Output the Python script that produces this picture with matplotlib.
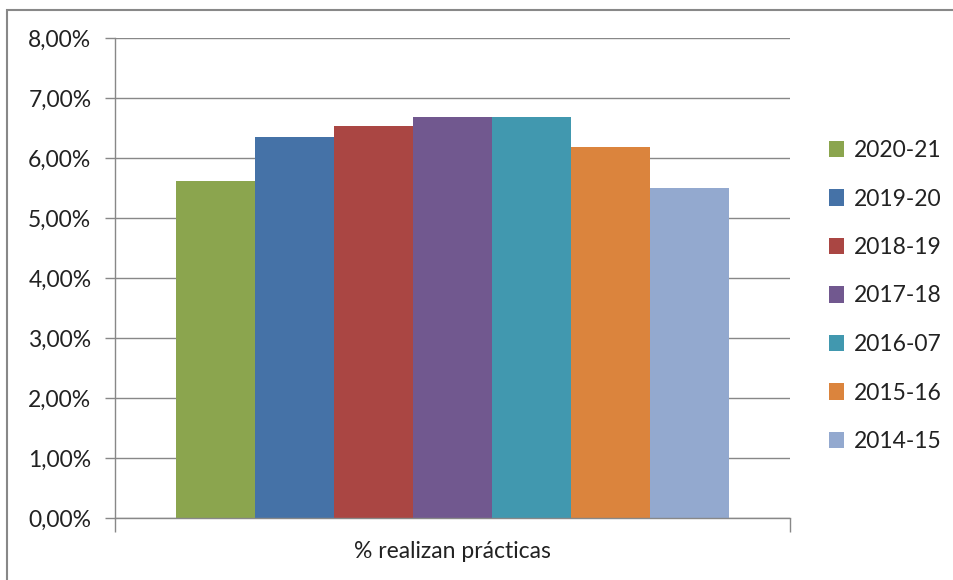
import matplotlib
matplotlib.use("Agg")
import matplotlib.pyplot as plt
from matplotlib.patches import Rectangle, Patch
from matplotlib.ticker import FuncFormatter

plt.rcParams['font.family'] = ['Lato', 'DejaVu Sans']

series = ["2020-21", "2019-20", "2018-19", "2017-18", "2016-07", "2015-16", "2014-15"]
values = [5.62, 6.35, 6.54, 6.69, 6.69, 6.18, 5.50]
colors = ["#8BA54E", "#4572A7", "#AA4643", "#71588F", "#4198AF", "#DB843D", "#93A9CF"]
category = "% realizan prácticas"
yticks = [0, 1, 2, 3, 4, 5, 6, 7, 8]

fig = plt.figure(figsize=(9.54, 5.8), dpi=100)
ax = fig.add_axes([115/954, 1-518/580, 675/954, 480/580])

n = len(series)
total = 553/675
w = total / n
for i, (s, v, c) in enumerate(zip(series, values, colors)):
    x = -total/2 + w*(i+0.5)
    ax.bar(x, v, width=w, color=c, label=s, zorder=2)

ax.set_xlim(-0.5, 0.5)
ax.set_ylim(0, 8)
ax.set_yticks(yticks)
ax.yaxis.set_major_formatter(FuncFormatter(lambda v, p: f"{v:.2f}%".replace(".", ",")))
ax.grid(axis='y', color='#888888', linewidth=1.0, zorder=0)
ax.set_xticks([-0.5, 0.5])
ax.set_xticklabels(["", ""])
ax.tick_params(axis='x', direction='out', length=10, color='#888888', width=1)
ax.tick_params(axis='y', direction='out', length=7, color='#888888', width=1, labelsize=16.5, pad=10)
for sp in ['top', 'right']:
    ax.spines[sp].set_visible(False)
for sp in ['left', 'bottom']:
    ax.spines[sp].set_color('#888888')
    ax.spines[sp].set_linewidth(1.0)
for lab in ax.get_yticklabels():
    lab.set_color('#222222')

fig.text(452/954, 1-552/580, category, ha='center', va='center', fontsize=16.5, color='#222222')

handles = [Patch(facecolor=c, label=s) for s, c in zip(series, colors)]
leg = fig.legend(handles=handles, loc='upper left', bbox_to_anchor=(829/954, 1-140/580),
                 frameon=False, fontsize=16.5, labelspacing=1.2, handlelength=0.65,
                 handleheight=0.7, handletextpad=0.45, borderaxespad=0, borderpad=0)
for t in leg.get_texts():
    t.set_color('#222222')

fig.patches.append(Rectangle((7/954, -0.05), 1.0, 1-10/580+0.05, transform=fig.transFigure,
                             fill=False, edgecolor='#888888', linewidth=1.5))

fig.savefig("out.png", dpi=100)
